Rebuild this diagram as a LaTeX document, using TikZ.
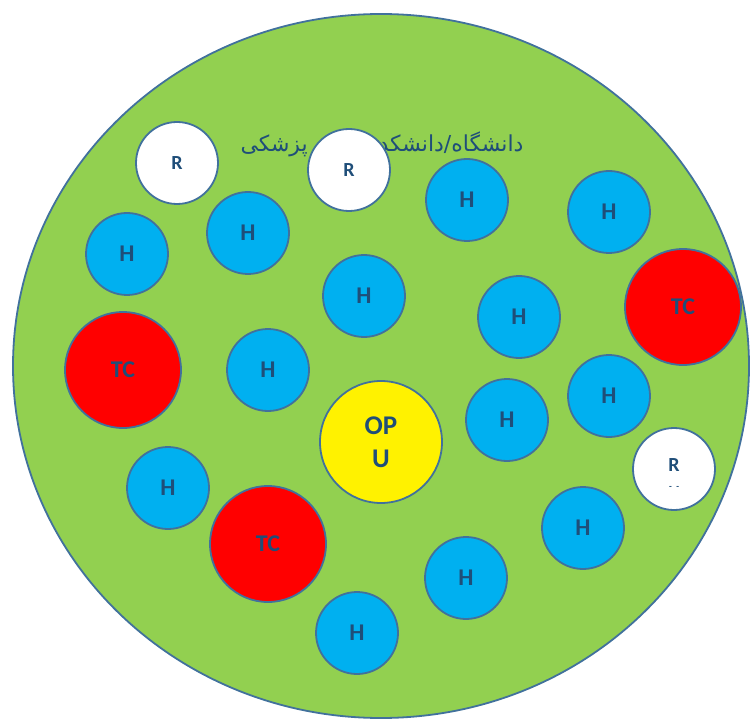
\documentclass[tikz,border=0pt]{standalone}
\usepackage{fontspec}
\usetikzlibrary{shapes.geometric}
\setmainfont{Carlito}
\newfontfamily\arabicfont[Script=Arabic]{DejaVu Sans}
\TeXXeTstate=1
\definecolor{lgreen}{HTML}{92D050}
\definecolor{cblue}{HTML}{00B0F0}
\definecolor{edge}{HTML}{41719C}
\definecolor{txt}{HTML}{1F4E79}
\begin{document}
\begin{tikzpicture}[x=1pt,y=-1pt,
  ball/.style={circle,draw=edge,line width=1.8pt,minimum size=82pt,inner sep=0pt,
    font=\bfseries\fontsize{24}{26}\selectfont,text=txt},
  hball/.style={ball,fill=cblue},
  rball/.style={ball,fill=white,font=\bfseries\fontsize{20}{22}\selectfont},
  tcball/.style={ball,fill=red,minimum size=116pt},
  opball/.style={ball,fill=yellow,minimum size=122pt,align=center,font=\bfseries\fontsize{27}{33}\selectfont}]
\useasboundingbox (0,0) rectangle (752,719);
\node[ellipse,draw=edge,fill=lgreen,line width=1.8pt,minimum width=736pt,minimum height=704pt,inner sep=0pt] (uni) at (381,366) {};
\node[text=txt,font=\arabicfont\fontsize{22}{24}\selectfont,anchor=base] (title) at (382,152) {\beginR دانشگاه/دانشکده علوم پزشکی\endR};
\node[rball] (r1) at (177,163) {R};
\node[rball] (r2) at (349,170) {R};
\node[rball] (r3) at (674,469) {};
\node[text=txt,font=\bfseries\fontsize{20}{22}\selectfont] (r3t) at (674,465) {R};
\node[text=txt,font=\bfseries\fontsize{9}{9}\selectfont,inner sep=0pt] (r3d) at (674,488) {-\,\,\,-};
\node[hball] (h1) at (467,200) {H};
\node[hball] (h2) at (609,212) {H};
\node[hball] (h3) at (127,254) {H};
\node[hball] (h4) at (248,233) {H};
\node[hball] (h5) at (364,296) {H};
\node[hball] (h6) at (519,317) {H};
\node[hball] (h7) at (268,370) {H};
\node[hball] (h8) at (609,396) {H};
\node[hball] (h9) at (507,420) {H};
\node[hball] (h10) at (168,488) {H};
\node[hball] (h11) at (583,528) {H};
\node[hball] (h12) at (466,578) {H};
\node[hball] (h13) at (357,633) {H};
\node[tcball] (tc1) at (123,370) {TC};
\node[tcball] (tc2) at (683,307) {TC};
\node[tcball] (tc3) at (268,544) {TC};
\node[opball] (opu) at (381,442) {OP\\U};
\end{tikzpicture}
\end{document}
